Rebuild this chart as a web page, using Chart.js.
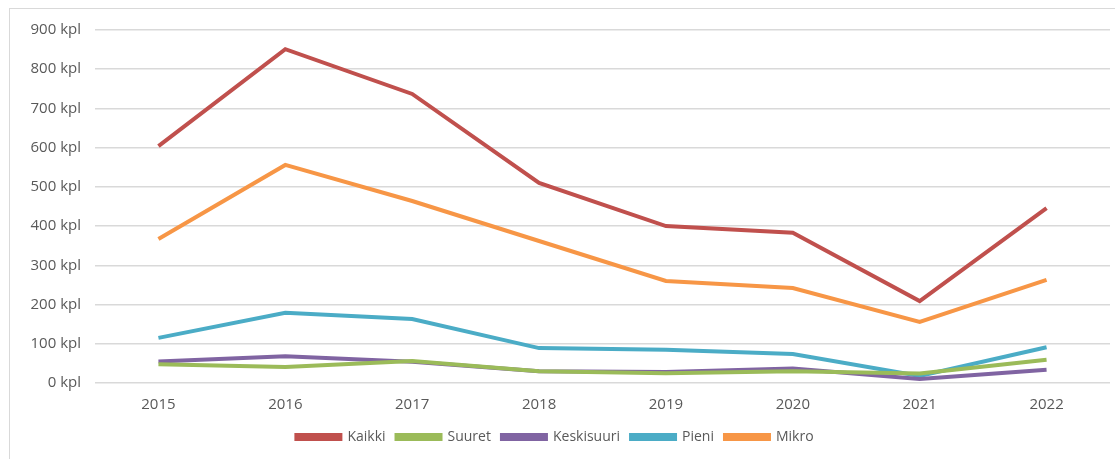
<!DOCTYPE html>
<html>
<head>
<meta charset="utf-8">
<script src="https://cdn.jsdelivr.net/npm/chart.js@4/dist/chart.umd.min.js"></script>
<style>
  html, body { margin: 0; padding: 0; background: #fff; }
  #wrap { position: relative; width: 1115px; height: 459px; }
  #frame { position: absolute; left: 9px; top: 8px; width: 1120px; height: 460px; border: 1px solid #d9d9d9; box-sizing: border-box; }
  canvas { position: absolute; left: 0; top: 0; }
</style>
</head>
<body>
<div id="wrap">
  <div id="frame"></div>
  <canvas id="c" width="1115" height="459"></canvas>
</div>
<script>
// vuodet ja sarjat (kpl), luettu kuvasta
const years = ['2015', '2016', '2017', '2018', '2019', '2020', '2021', '2022'];
const kaikki     = [604, 851, 737, 510, 400, 383, 209, 446];
const suuret     = [48, 41, 56, 30, 25, 30, 24, 59];
const keskisuuri = [55, 68, 54, 30, 28, 37, 10, 34];
const pieni      = [115, 179, 163, 89, 85, 74, 18, 91];
const mikro      = [367, 556, 464, 362, 260, 242, 156, 263];

const TXT = '#595959';
const line = (label, data, color) => ({
  label, data, borderColor: color, backgroundColor: color,
  borderWidth: 4, pointRadius: 0, tension: 0, fill: false,
});

new Chart(document.getElementById('c'), {
  type: 'line',
  data: {
    labels: years,
    datasets: [
      line('Kaikki', kaikki, '#C0504D'),
      line('Suuret', suuret, '#9BBB59'),
      line('Keskisuuri', keskisuuri, '#8064A2'),
      line('Pieni', pieni, '#4BACC6'),
      line('Mikro', mikro, '#F79646'),
    ],
  },
  options: {
    responsive: false, animation: false,
    layout: { padding: { top: 30, right: 5, left: 0, bottom: 5 } },
    plugins: {
      legend: {
        display: true, position: 'bottom',
        labels: { boxWidth: 44, boxHeight: 4, padding: 11, color: TXT, font: { family: 'Open Sans', size: 14 } },
      },
      tooltip: { enabled: false },
    },
    scales: {
      x: {
        offset: true,
        grid: { display: false },
        border: { display: false },
        ticks: { color: TXT, font: { family: 'Open Sans', size: 15 }, padding: 5 },
      },
      y: {
        min: 0, max: 900,
        afterFit: (s) => { s.width = 95; },
        grid: { color: '#d9d9d9', lineWidth: 1.5, drawTicks: false },
        border: { display: false },
        ticks: { stepSize: 100, padding: 14, color: TXT, font: { family: 'Open Sans', size: 15 }, callback: (v) => v + ' kpl' },
      },
    },
  },
});
</script>
</body>
</html>
